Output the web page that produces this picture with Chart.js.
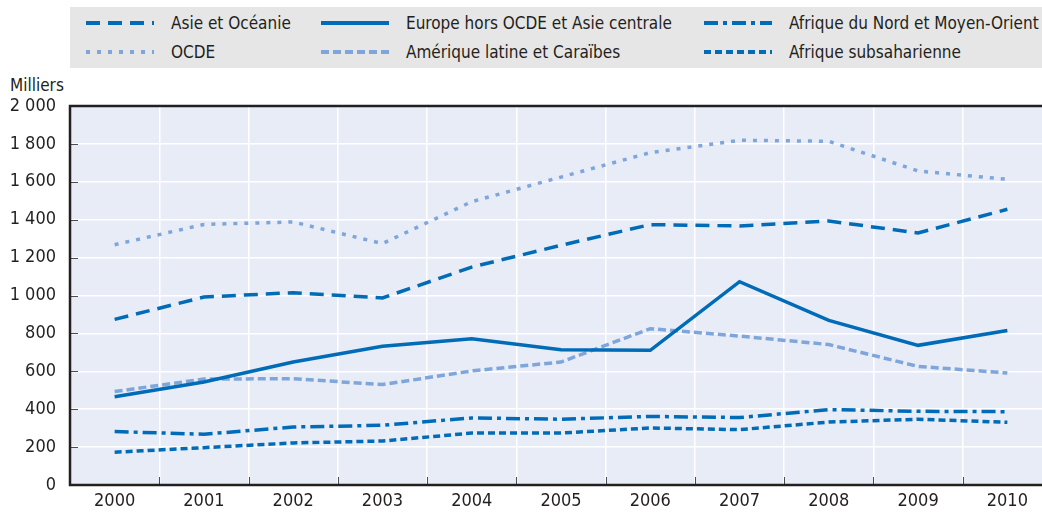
<!DOCTYPE html>
<html lang="fr">
<head>
  <meta charset="UTF-8">
  <title>Milliers par région, 2000-2010</title>
  <script src="https://cdn.jsdelivr.net/npm/chart.js"></script>
  <style>
    * { box-sizing: border-box; }
    html, body {
      margin: 0;
      padding: 0;
      width: 1042px;
      height: 517px;
      overflow: hidden;
      background: #fff;
      font-family: 'Liberation Sans Narrow', 'DejaVu Sans Condensed', 'Liberation Sans', sans-serif;
      color: #231f20;
    }
    #legend {
      position: absolute;
      left: 70px;
      top: 7px;
      width: 972px;
      height: 61px;
      background: #e6e6e6;
    }
    .item {
      position: absolute;
      height: 20px;
      font-size: 17px;
      line-height: 20px;
      white-space: nowrap;
    }
    .item svg {
      position: absolute;
      left: 0;
      top: 4px;
    }
    .item span {
      position: absolute;
      left: 85px;
      top: 0;
    }
    #unit {
      position: absolute;
      left: 10px;
      top: 75px;
      font-size: 17px;
    }
    .chart-box {
      position: absolute;
      left: 0;
      top: 0;
      width: 1052px;
      height: 517px;
    }
  </style>
</head>
<body>
  <div id="legend"></div>
  <div id="unit">Milliers</div>
  <div class="chart-box">
    <canvas id="chart"></canvas>
  </div>

  <script>
    const years = ['2000', '2001', '2002', '2003', '2004', '2005', '2006', '2007', '2008', '2009', '2010'];
    const yTicks = [0, 200, 400, 600, 800, 1000, 1200, 1400, 1600, 1800, 2000];

    const asieOceanie = [874, 992, 1015, 987, 1150, 1265, 1374, 1367, 1393, 1330, 1455];
    const ocde = [1268, 1375, 1388, 1274, 1495, 1625, 1754, 1819, 1814, 1657, 1613];
    const europeHorsOcde = [466, 544, 649, 732, 772, 714, 711, 1073, 869, 737, 815];
    const ameriqueLatine = [493, 559, 561, 530, 602, 649, 825, 786, 741, 626, 591];
    const afriqueNord = [282, 268, 306, 315, 354, 347, 362, 356, 398, 389, 387];
    const afriqueSub = [173, 197, 222, 232, 274, 274, 301, 292, 332, 347, 331];

    const dark = '#006bb6';
    const light = '#7fa6da';

    const series = [
      { label: 'Asie et Océanie', data: asieOceanie, color: dark, dash: [14, 8], legendX: 16, row: 0 },
      { label: 'Europe hors OCDE et Asie centrale', data: europeHorsOcde, color: dark, dash: [], legendX: 251, row: 0 },
      { label: 'Afrique du Nord et Moyen-Orient', data: afriqueNord, color: dark, dash: [14, 5, 4, 5], legendX: 634, row: 0 },
      { label: 'OCDE', data: ocde, color: light, dash: [4, 7], legendX: 16, row: 1 },
      { label: 'Amérique latine et Caraïbes', data: ameriqueLatine, color: light, dash: [8, 4], legendX: 251, row: 1 },
      { label: 'Afrique subsaharienne', data: afriqueSub, color: dark, dash: [7, 4], legendX: 634, row: 1 }
    ];

    // legende en HTML (deux lignes, trois colonnes)
    const legend = document.getElementById('legend');
    series.forEach(s => {
      const div = document.createElement('div');
      div.className = 'item';
      div.style.left = s.legendX + 'px';
      div.style.top = (s.row === 0 ? 6 : 35) + 'px';
      const dashAttr = s.dash.length ? ` stroke-dasharray="${s.dash.join(' ')}"` : '';
      div.innerHTML =
        `<svg width="68" height="12"><line x1="0" y1="6" x2="68" y2="6" stroke="${s.color}" stroke-width="4"${dashAttr}/></svg>` +
        `<span>${s.label}</span>`;
      legend.appendChild(div);
    });

    const fontFamily = "'Liberation Sans Narrow', 'DejaVu Sans Condensed', 'Liberation Sans', sans-serif";

    const frame = {
      id: 'frame',
      beforeDraw(chart) {
        const { ctx, chartArea: a } = chart;
        ctx.save();
        ctx.fillStyle = '#e8ecf7';
        ctx.fillRect(a.left, a.top, a.right - a.left, a.bottom - a.top);
        ctx.restore();
      },
      beforeDatasetsDraw(chart) {
        const { ctx, chartArea: a, scales } = chart;
        ctx.save();
        ctx.strokeStyle = '#4d4d4d';
        ctx.lineWidth = 1;
        // petites graduations vers l'intérieur
        yTicks.forEach(v => {
          const y = Math.round(scales.y.getPixelForValue(v)) + 0.5;
          ctx.beginPath();
          ctx.moveTo(a.left, y);
          ctx.lineTo(a.left + 8, y);
          ctx.stroke();
        });
        for (let i = 1; i < years.length; i++) {
          const x = Math.round((scales.x.getPixelForValue(i - 1) + scales.x.getPixelForValue(i)) / 2) + 0.5;
          ctx.beginPath();
          ctx.moveTo(x, a.bottom);
          ctx.lineTo(x, a.bottom - 8);
          ctx.stroke();
        }
        ctx.strokeStyle = '#231f20';
        ctx.lineWidth = 2.5;
        ctx.beginPath();
        ctx.moveTo(a.right + 2, a.top);
        ctx.lineTo(a.left, a.top);
        ctx.lineTo(a.left, a.bottom);
        ctx.lineTo(a.right + 2, a.bottom);
        ctx.stroke();
        ctx.restore();
      }
    };

    window.onload = () => {
      const ctx = document.getElementById('chart').getContext('2d');
      new Chart(ctx, {
        type: 'line',
        data: {
          labels: years,
          datasets: series.map(s => ({
            label: s.label,
            data: s.data,
            borderColor: s.color,
            borderWidth: 3.5,
            borderDash: s.dash,
            pointRadius: 0,
            fill: false,
            tension: 0
          }))
        },
        options: {
          responsive: true,
          maintainAspectRatio: false,
          animation: false,
          layout: { padding: { top: 106, right: 0, left: 0, bottom: 0 } },
          scales: {
            x: {
              offset: true,
              grid: { offset: true, color: '#ffffff', lineWidth: 1.5, drawTicks: false },
              border: { display: false },
              ticks: {
                color: '#231f20',
                font: { family: fontFamily, size: 18 },
                padding: 6,
                maxRotation: 0
              },
              afterFit(scale) { scale.height = 32; }
            },
            y: {
              min: 0,
              max: 2000,
              afterBuildTicks(scale) { scale.ticks = yTicks.map(v => ({ value: v })); },
              grid: { color: '#ffffff', lineWidth: 1.5, drawTicks: false },
              border: { display: false },
              ticks: {
                color: '#231f20',
                font: { family: fontFamily, size: 18 },
                padding: 14,
                callback: v => String(v).replace(/\B(?=(\d{3})+(?!\d))/g, ' ')
              },
              afterFit(scale) { scale.width = 70; }
            }
          },
          plugins: {
            legend: { display: false },
            tooltip: { enabled: false }
          }
        },
        plugins: [frame]
      });
    };
  </script>
</body>
</html>
